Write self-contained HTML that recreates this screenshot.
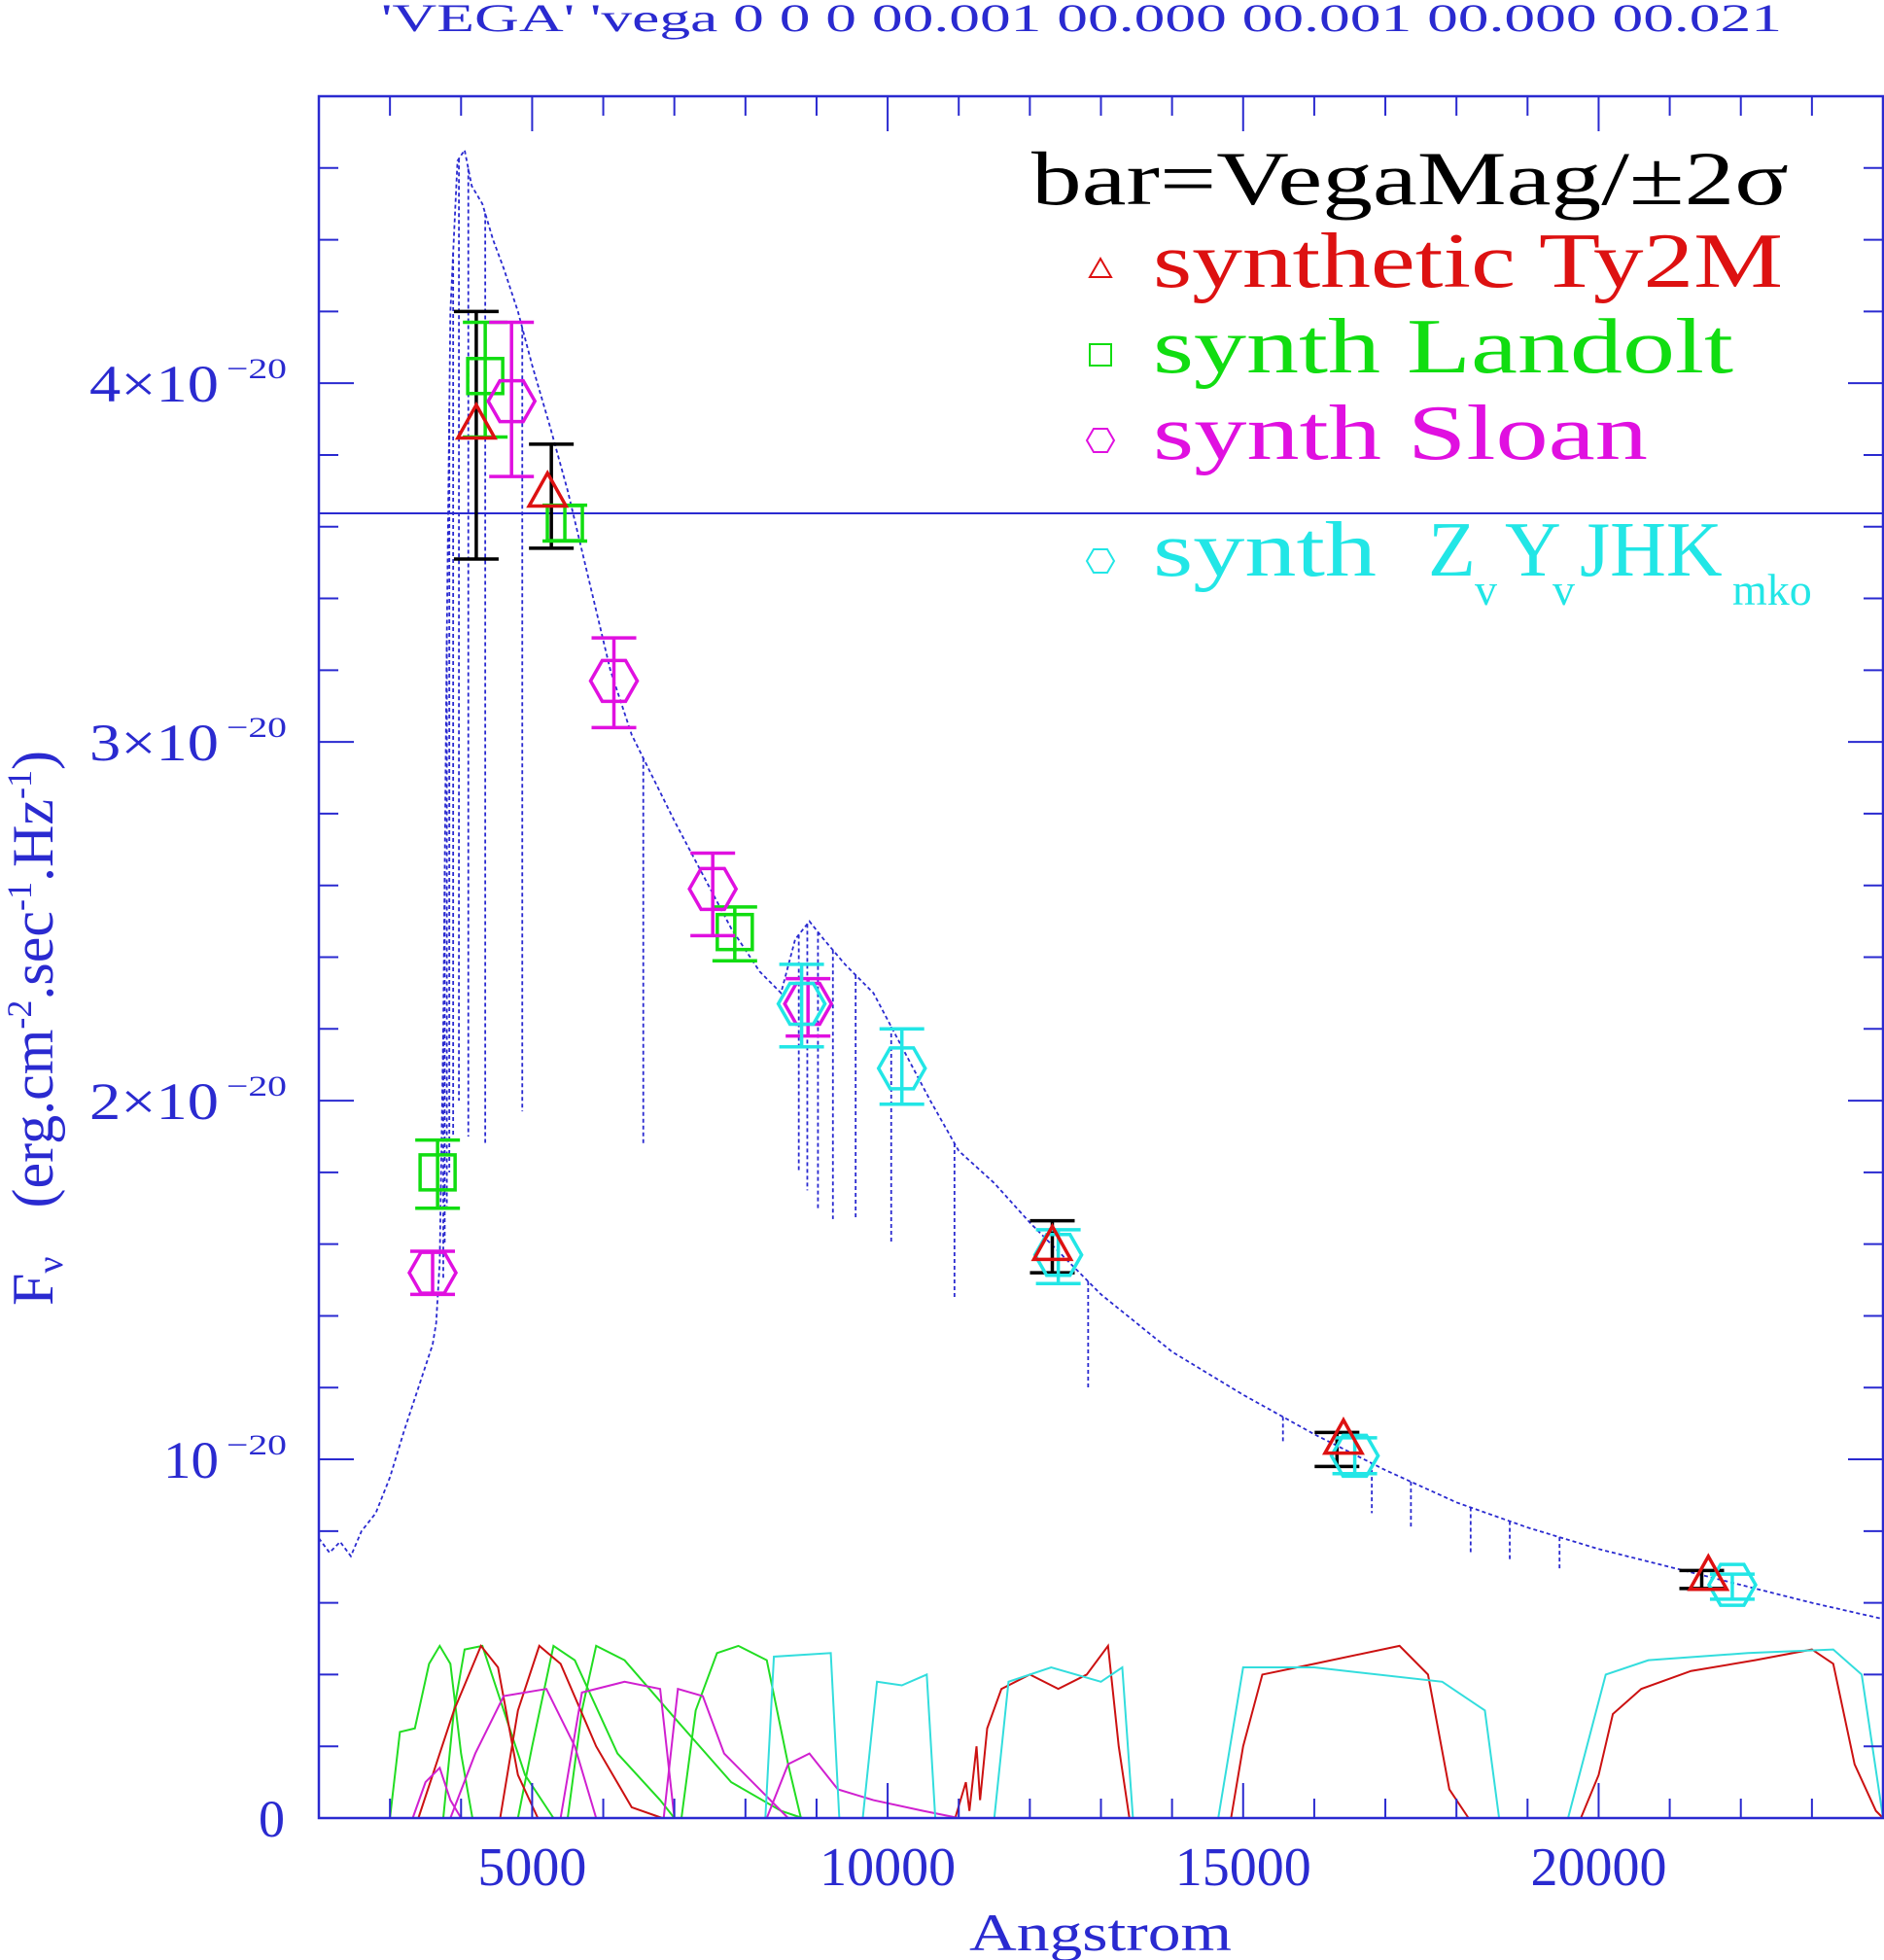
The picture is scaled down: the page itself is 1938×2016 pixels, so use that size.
<!DOCTYPE html>
<html><head><meta charset="utf-8"><style>
html,body{margin:0;padding:0;background:#fff;}
svg{display:block;font-family:"Liberation Serif",serif;}
</style></head><body>
<svg id="chart" width="1938" height="2016" viewBox="0 0 1938 2016" xmlns="http://www.w3.org/2000/svg">
<rect x="0" y="0" width="1938" height="2016" fill="#fff"/>
<text x="392" y="32" font-size="40" fill="#2a2ad0" textLength="1441" lengthAdjust="spacingAndGlyphs">'VEGA'  'vega 0 0 0 00.001 00.000 00.001 00.000 00.021</text>
<g id="filters"></g>
<g id="spectrum"></g>
<line x1="328" y1="528" x2="1937" y2="528" stroke="#2a2ad0" stroke-width="2"/>
<g id="axes"></g>
<g id="points"></g>
<g>
<text x="1061" y="210" font-size="78" fill="#000" textLength="779" lengthAdjust="spacingAndGlyphs">bar=VegaMag/±2σ</text>
<polygon points="1132,266 1121,285 1143,285" fill="none" stroke="#dd1111" stroke-width="2"/>
<text x="1186" y="295" font-size="80" fill="#dd1111" textLength="648" lengthAdjust="spacingAndGlyphs">synthetic Ty2M</text>
<rect x="1121" y="354" width="22" height="22" fill="none" stroke="#11dd11" stroke-width="2"/>
<text x="1186" y="383" font-size="80" fill="#11dd11" textLength="597" lengthAdjust="spacingAndGlyphs">synth Landolt</text>
<polygon points="1118,453 1125,441 1139,441 1146,453 1139,465 1125,465" fill="none" stroke="#e010e0" stroke-width="2"/>
<text x="1186" y="472" font-size="80" fill="#e010e0" textLength="509" lengthAdjust="spacingAndGlyphs">synth Sloan</text>
<polygon points="1118,577 1125,565 1139,565 1146,577 1139,589 1125,589" fill="none" stroke="#22e6e6" stroke-width="2"/>
<text font-size="80" fill="#22e6e6"><tspan x="1186" y="592" textLength="230" lengthAdjust="spacingAndGlyphs">synth</tspan><tspan x="1469" y="592">Z</tspan><tspan x="1517" y="622" font-size="46">v</tspan><tspan x="1548" y="592">Y</tspan><tspan x="1597" y="622" font-size="46">v</tspan><tspan x="1625" y="592">JHK</tspan><tspan x="1782" y="622" font-size="46">mko</tspan></text>
</g>
<text x="1132" y="2006" font-size="54" fill="#2a2ad0" text-anchor="middle" textLength="270" lengthAdjust="spacingAndGlyphs">Angstrom</text>
<text transform="translate(54,1343) rotate(-90)" font-size="60" fill="#2a2ad0">F<tspan font-size="38" dy="10">ν</tspan><tspan dy="-10" dx="50">(erg.cm</tspan><tspan font-size="36" dy="-22">-2</tspan><tspan dy="22">.sec</tspan><tspan font-size="36" dy="-22">-1</tspan><tspan dy="22">.Hz</tspan><tspan font-size="36" dy="-22">-1</tspan><tspan dy="22">)</tspan></text>
</svg>
<script>
var NS="http://www.w3.org/2000/svg";
var xMin=2000,xMax=24000,yMin=0,yMax=4.8;
var xMajorTicks=[5000,10000,15000,20000];
var xTickLabels=["5000","10000","15000","20000"];
var yMajorTicks=[0,1,2,3,4];
var specWave=[2000,2150,2300,2450,2600,2800,3000,3200,3400,3600,3650,3700,3750,3800,3850,3950,4050,4150,4300,4450,4600,4800,5000,5250,5500,5800,6100,6400,6700,7000,7400,7800,8200,8500,8700,8900,9100,9400,9800,10200,10600,11000,11500,12000,12500,13000,13500,14000,15000,16000,17000,18000,19000,20000,21000,22000,23000,24000];
var specFlux=[0.78,0.74,0.77,0.73,0.80,0.85,0.95,1.08,1.20,1.32,1.38,1.55,2.2,3.3,4.2,4.62,4.65,4.55,4.5,4.4,4.32,4.2,4.05,3.88,3.7,3.45,3.2,3.02,2.9,2.78,2.63,2.48,2.36,2.3,2.45,2.5,2.45,2.38,2.3,2.15,2.0,1.86,1.77,1.66,1.56,1.46,1.38,1.3,1.18,1.07,0.97,0.88,0.81,0.75,0.70,0.65,0.60,0.555];
var lineWave=[3750,3770,3800,3835,3889,3970,4102,4340,4861,6563,8750,8870,9020,9230,9550,10050,10940,12820,15560,16810,17360,18200,18750,19450];
var lineDepth=[1.5,1.6,1.7,1.8,1.9,2.0,1.9,1.88,1.97,1.88,1.8,1.75,1.7,1.67,1.67,1.6,1.45,1.2,1.05,0.85,0.81,0.74,0.72,0.69];
var fLandoltU=[[3000,0],[3140,0.24],[3350,0.25],[3550,0.43],[3700,0.48],[3850,0.43],[4000,0.18],[4160,0]];
var fLandoltB=[[3750,0],[3900,0.3],[4050,0.47],[4300,0.48],[4550,0.33],[4900,0.12],[5300,0]];
var fLandoltV=[[4800,0],[5000,0.2],[5300,0.48],[5600,0.44],[6200,0.18],[6800,0.05],[7000,0]];
var fLandoltR=[[5500,0],[5700,0.3],[5900,0.48],[6300,0.44],[7000,0.28],[7800,0.1],[8500,0.02],[8800,0]];
var fLandoltI=[[7100,0],[7300,0.3],[7600,0.46],[7900,0.48],[8300,0.44],[8600,0.15],[8780,0]];
var fTychoB=[[3400,0],[3650,0.15],[3900,0.3],[4280,0.48],[4520,0.42],[4800,0.12],[5080,0]];
var fTychoV=[[4550,0],[4800,0.3],[5100,0.48],[5400,0.43],[5900,0.2],[6400,0.03],[6830,0]];
var f2massJ=[[10950,0],[11100,0.1],[11150,0.02],[11250,0.2],[11300,0.05],[11400,0.25],[11600,0.36],[12000,0.4],[12400,0.36],[12800,0.4],[13100,0.48],[13250,0.2],[13400,0]];
var f2massH=[[14830,0],[15000,0.2],[15270,0.4],[16000,0.43],[17200,0.48],[17600,0.4],[17900,0.08],[18170,0]];
var f2massK=[[19750,0],[20000,0.12],[20200,0.29],[20600,0.36],[21300,0.41],[22200,0.44],[23000,0.47],[23300,0.43],[23600,0.15],[23900,0.02],[24000,0]];
var fSloanU=[[3320,0],[3500,0.1],[3700,0.14],[3850,0.05],[4000,0]];
var fSloanG=[[3850,0],[4200,0.18],[4600,0.34],[5200,0.36],[5600,0.2],[5900,0]];
var fSloanR=[[5400,0],[5700,0.35],[6300,0.38],[6800,0.36],[7000,0]];
var fSloanI=[[6850,0],[7050,0.36],[7400,0.34],[7700,0.18],[8200,0.08],[8600,0]];
var fSloanZ=[[8300,0],[8600,0.15],[8900,0.18],[9300,0.08],[9800,0.05],[10500,0.02],[11000,0]];
var fMkoZ=[[8280,0],[8400,0.45],[9200,0.46],[9320,0]];
var fMkoY=[[9650,0],[9850,0.38],[10200,0.37],[10550,0.4],[10670,0]];
var fMkoJ=[[11500,0],[11700,0.38],[12300,0.42],[13000,0.38],[13300,0.42],[13450,0]];
var fMkoH=[[14650,0],[15000,0.42],[16000,0.42],[17800,0.38],[18400,0.3],[18600,0]];
var fMkoK=[[19570,0],[20100,0.4],[20700,0.44],[22100,0.46],[23300,0.47],[23700,0.4],[24000,0]];
var ty2mWave=[4214,5216,12316,16411,21543];
var ty2mFlux=[3.88,3.69,1.59,1.05,0.67];
var vegaBarWave=[4214,5270,12316,16320,21450];
var vegaBarLo=[3.51,3.54,1.52,0.98,0.64];
var vegaBarHi=[4.20,3.83,1.665,1.075,0.69];
var landoltWave=[3670,4340,5460,7850];
var landoltFlux=[1.80,4.02,3.61,2.47];
var landoltLo=[1.70,3.85,3.56,2.39];
var landoltHi=[1.89,4.17,3.66,2.54];
var sloanWave=[3600,4710,6150,7540,8880];
var sloanFlux=[1.52,3.95,3.17,2.59,2.27];
var sloanLo=[1.46,3.74,3.04,2.46,2.18];
var sloanHi=[1.58,4.17,3.29,2.69,2.34];
var mkoWave=[8790,10200,12400,16570,21880];
var mkoFlux=[2.27,2.09,1.57,1.01,0.65];
var mkoLo=[2.15,1.99,1.49,0.96,0.61];
var mkoHi=[2.38,2.20,1.64,1.06,0.68];

function sx(w){return 328+(w-xMin)/(xMax-xMin)*1609;}
function sy(f){return 1870-(f-yMin)/(yMax-yMin)*1771;}
function mk(tag,attrs,parent){var e=document.createElementNS(NS,tag);for(var k in attrs)e.setAttribute(k,attrs[k]);parent.appendChild(e);return e;}
var BLUE="#2a2ad0";

var ax=document.getElementById('axes');
var frame=mk('rect',{x:328,y:99,width:1609,height:1771,fill:'none',stroke:BLUE,'stroke-width':2.5},ax);


for(var w=3000;w<xMax;w+=1000){
  var major=(w%5000===0),len=major?36:20;
  var t1=mk('line',{x1:sx(w),y1:1870,x2:sx(w),y2:1870-len,stroke:BLUE,'stroke-width':2},ax);
  
  
  var t2=mk('line',{x1:sx(w),y1:99,x2:sx(w),y2:99+len,stroke:BLUE,'stroke-width':2},ax);
  
  
}
xMajorTicks.forEach(function(w,i){
  var t=mk('text',{x:sx(w),y:1939,'font-size':56,fill:BLUE,'text-anchor':'middle'},ax);
  t.textContent=xTickLabels[i];
  
  
});
for(var k=1;k<24;k++){
  var f=k*0.2,major=(k%5===0),len=major?36:20;
  var a=mk('line',{x1:328,y1:sy(f),x2:328+len,y2:sy(f),stroke:BLUE,'stroke-width':2},ax);
  
  
  var b=mk('line',{x1:1937,y1:sy(f),x2:1937-len,y2:sy(f),stroke:BLUE,'stroke-width':2},ax);
  
  
}
yMajorTicks.forEach(function(v){
  var t=mk('text',{x:v===1?168:92,y:sy(v)+19,'font-size':54,fill:BLUE},ax);
  
  
  if(v===0){t.textContent='0';t.setAttribute('x',266);return;}
  var pre=(v===1?'':v+'×')+'10';
  var s1=document.createElementNS(NS,'tspan');s1.textContent=pre;
  s1.setAttribute('textLength',v===1?57:133);s1.setAttribute('lengthAdjust','spacingAndGlyphs');t.appendChild(s1);
  var s2=document.createElementNS(NS,'tspan');s2.setAttribute('font-size','30');s2.setAttribute('x','233');s2.setAttribute('dy','-24');
  s2.setAttribute('textLength','62');s2.setAttribute('lengthAdjust','spacingAndGlyphs');s2.textContent='−20';t.appendChild(s2);
});

var fg=document.getElementById('filters');
function drawFilter(arr,color,name){
  var pts=arr.map(function(p){return sx(p[0])+','+sy(p[1]);}).join(' ');
  var pl=mk('polyline',{points:pts,fill:'none',stroke:color,'stroke-width':2},fg);
  
  
}
[[fLandoltU,'filter-landolt-u'],[fLandoltB,'filter-landolt-b'],[fLandoltV,'filter-landolt-v'],[fLandoltR,'filter-landolt-r'],[fLandoltI,'filter-landolt-i']].forEach(function(f){drawFilter(f[0],'#22dd22',f[1]);});
[[fTychoB,'filter-tycho-b'],[fTychoV,'filter-tycho-v'],[f2massJ,'filter-2mass-j'],[f2massH,'filter-2mass-h'],[f2massK,'filter-2mass-k']].forEach(function(f){drawFilter(f[0],'#cc1111',f[1]);});
[[fSloanU,'filter-sloan-u'],[fSloanG,'filter-sloan-g'],[fSloanR,'filter-sloan-r'],[fSloanI,'filter-sloan-i'],[fSloanZ,'filter-sloan-z']].forEach(function(f){drawFilter(f[0],'#d020d0',f[1]);});
[[fMkoZ,'filter-mko-z'],[fMkoY,'filter-mko-y'],[fMkoJ,'filter-mko-j'],[fMkoH,'filter-mko-h'],[fMkoK,'filter-mko-k']].forEach(function(f){drawFilter(f[0],'#33dddd',f[1]);});

var sg=document.getElementById('spectrum');
var sp=specWave.map(function(w,i){return sx(w)+','+sy(specFlux[i]);}).join(' ');
var spl=mk('polyline',{points:sp,fill:'none',stroke:BLUE,'stroke-width':1.8,'stroke-dasharray':'4 3'},sg);


function interp(w){for(var i=1;i<specWave.length;i++){if(w<=specWave[i]){var t=(w-specWave[i-1])/(specWave[i]-specWave[i-1]);return specFlux[i-1]+t*(specFlux[i]-specFlux[i-1]);}}return specFlux[specFlux.length-1];}
lineWave.forEach(function(w,i){
  var top=interp(w);
  var l=mk('line',{x1:sx(w),y1:sy(top),x2:sx(w),y2:sy(Math.min(lineDepth[i],top)),stroke:BLUE,'stroke-width':1.8,'stroke-dasharray':'4 3'},sg);
  
  
});

var pg=document.getElementById('points');
function errBar(w,lo,hi,color,name){
  var g=mk('g',{stroke:color,'stroke-width':3.5,fill:'none'},pg);
  
  
  var x=sx(w);
  mk('line',{x1:x,y1:sy(lo),x2:x,y2:sy(hi)},g);
  mk('line',{x1:x-23,y1:sy(lo),x2:x+23,y2:sy(lo)},g);
  mk('line',{x1:x-23,y1:sy(hi),x2:x+23,y2:sy(hi)},g);
}
function hexPts(x,y){return [[x-24,y],[x-12,y-21],[x+12,y-21],[x+24,y],[x+12,y+21],[x-12,y+21]].map(function(p){return p.join(',');}).join(' ');}
vegaBarWave.forEach(function(w,i){errBar(w,vegaBarLo[i],vegaBarHi[i],'#000','vegamag-error-bar');});
landoltWave.forEach(function(w,i){
  errBar(w,landoltLo[i],landoltHi[i],'#11dd11','landolt-error-bar');
  var r=mk('rect',{x:sx(w)-18,y:sy(landoltFlux[i])-18,width:36,height:36,fill:'none',stroke:'#11dd11','stroke-width':3.5},pg);
  
  
});
sloanWave.forEach(function(w,i){
  errBar(w,sloanLo[i],sloanHi[i],'#e010e0','sloan-error-bar');
  var h=mk('polygon',{points:hexPts(sx(w),sy(sloanFlux[i])),fill:'none',stroke:'#e010e0','stroke-width':3.5},pg);
  
  
});
mkoWave.forEach(function(w,i){
  errBar(w,mkoLo[i],mkoHi[i],'#22e6e6','mko-error-bar');
  var h=mk('polygon',{points:hexPts(sx(w),sy(mkoFlux[i])),fill:'none',stroke:'#22e6e6','stroke-width':3.5},pg);
  
  
});
ty2mWave.forEach(function(w,i){
  var x=sx(w),y=sy(ty2mFlux[i]);
  var t=mk('polygon',{points:(x)+','+(y-22)+' '+(x-19)+','+(y+12)+' '+(x+19)+','+(y+12),fill:'none',stroke:'#dd1111','stroke-width':3.5},pg);
  
  
});
</script>
</body></html>
